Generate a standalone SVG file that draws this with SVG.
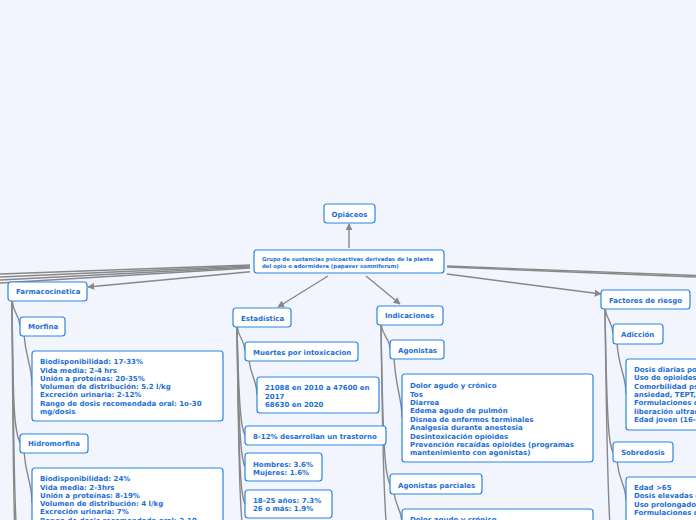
<svg xmlns="http://www.w3.org/2000/svg" width="696" height="520" viewBox="0 0 696 520">
<defs>
<style>
.n{fill:#fff;stroke:#2b86e4;stroke-width:1.2}
.t{font-family:"DejaVu Sans","Verdana",sans-serif;font-weight:bold;font-size:7px;fill:#1d6fd6}
.s{font-size:5.4px}
.c{fill:none;stroke:#888;stroke-width:1.4}
.a{fill:none;stroke:#888;stroke-width:1.4;marker-end:url(#ah)}
</style>
<marker id="ah" viewBox="0 0 10 10" refX="9" refY="5" markerWidth="7" markerHeight="7" markerUnits="userSpaceOnUse" orient="auto">
<path d="M0 0 L10 5 L0 10 Z" fill="#888"/>
</marker>
</defs>
<rect width="696" height="520" fill="#f2f5fe"/>
<g id="connectors">
<path class="c" d="M250 265 L0 274"/>
<path class="c" d="M250 266 L0 277"/>
<path class="c" d="M250 267 L0 280"/>
<path class="c" d="M250 268 L0 283"/>
<path class="c" d="M447 266 L696 275.5"/>
<path class="c" d="M447 267 L696 277"/>
<path class="a" d="M250 271.7 L88 287"/>
<path class="a" d="M447 274 L601 294"/>
<path class="a" d="M349 248 L349 224"/>
<path class="a" d="M328 276 L278 307"/>
<path class="a" d="M366 276 L400 304"/>
<path class="c" d="M12 300 C14 316,20 316,20 326"/>
<path class="c" d="M12 300 C13 420,15 432,20 443"/>
<path class="c" d="M12 300 C13 480,14 510,15 540"/>
<path class="c" d="M12 300 C14 480,15 510,17 540"/>
<path class="c" d="M24 335 C26 360,32 365,32 386"/>
<path class="c" d="M24 452 C26 478,32 482,32 503"/>
<path class="c" d="M237 326 C239 340,245 340,245 351"/>
<path class="c" d="M237 326 C239 410,241 428,245 435"/>
<path class="c" d="M237 326 C239 440,241 458,245 467"/>
<path class="c" d="M237 326 C239 480,241 495,245 504"/>
<path class="c" d="M237 326 C239 500,241 520,244 540"/>
<path class="c" d="M249 360 C251 378,257 380,257 395"/>
<path class="c" d="M381 324 C383 338,390 338,390 349"/>
<path class="c" d="M381 324 C383 450,385 475,390 484"/>
<path class="c" d="M381 324 C383 480,385 520,388 540"/>
<path class="c" d="M394 358 C396 390,402 398,402 418"/>
<path class="c" d="M394 493 C396 508,402 510,402 524"/>
<path class="c" d="M605 308 C607 322,613 322,613 334"/>
<path class="c" d="M605 308 C607 430,609 445,613 452"/>
<path class="c" d="M605 308 C607 480,609 520,611 540"/>
<path class="c" d="M617 343 C619 370,626 375,626 394"/>
<path class="c" d="M617 461 C619 482,626 485,626 500"/>
</g>
<g id="opiaceos"><rect class="n" x="324" y="204" width="51" height="19" rx="3"/><text class="t" x="349.5" y="216.8" text-anchor="middle">Opiáceos</text></g>
<g id="grupo"><rect class="n" x="254" y="250" width="190" height="23" rx="3"/><text class="t s" x="262" y="261">Grupo de sustancias psicoactivas derivadas de la planta</text><text class="t s" x="262" y="267.5">del opio o adormidera (papaver somniferum)</text></g>
<g id="farmacocinetica"><rect class="n" x="8" y="282" width="79" height="19" rx="3"/><text class="t" x="16" y="294.2">Farmacocinetica</text></g>
<g id="morfina"><rect class="n" x="20" y="317" width="45" height="19" rx="3"/><text class="t" x="28" y="328.5">Morfina</text></g>
<g id="morfina-datos"><rect class="n" x="32" y="351" width="191" height="70" rx="3"/>
<text class="t" x="40" y="364.2">Biodisponibilidad: 17-33%</text>
<text class="t" x="40" y="372.5">Vida media: 2-4 hrs</text>
<text class="t" x="40" y="380.8">Unión a proteínas: 20-35%</text>
<text class="t" x="40" y="389.1">Volumen de distribución: 5.2 l/kg</text>
<text class="t" x="40" y="397.4">Excreción urinaria: 2-12%</text>
<text class="t" x="40" y="405.7">Rango de dosis recomendada oral: 1o-30</text>
<text class="t" x="40" y="414">mg/dosis</text></g>
<g id="hidromorfina"><rect class="n" x="20" y="434" width="68" height="19" rx="3"/><text class="t" x="28" y="445.8">Hidromorfina</text></g>
<g id="hidromorfina-datos"><rect class="n" x="32" y="468" width="191" height="70" rx="3"/>
<text class="t" x="40" y="481.2">Biodisponibilidad: 24%</text>
<text class="t" x="40" y="489.5">Vida media: 2-3hrs</text>
<text class="t" x="40" y="497.8">Unión a proteínas: 8-19%</text>
<text class="t" x="40" y="506.1">Volumen de distribución: 4 l/kg</text>
<text class="t" x="40" y="514.4">Excreción urinaria: 7%</text>
<text class="t" x="40" y="522.7">Rango de dosis recomendada oral: 2-10</text></g>
<g id="estadistica"><rect class="n" x="233" y="308" width="58" height="19" rx="3"/><text class="t" x="241" y="320.8">Estadística</text></g>
<g id="muertes"><rect class="n" x="245" y="342" width="113" height="19" rx="3"/><text class="t" x="253" y="354.8">Muertes por intoxicacion</text></g>
<g id="muertes-datos"><rect class="n" x="257" y="377" width="122" height="36" rx="3"/>
<text class="t" x="265" y="390.2">21088 en 2010 a 47600 en</text>
<text class="t" x="265" y="398.5">2017</text>
<text class="t" x="265" y="406.8">68630 en 2020</text></g>
<g id="trastorno"><rect class="n" x="245" y="426" width="141" height="19" rx="3"/><text class="t" x="253" y="438.8">8-12% desarrollan un trastorno</text></g>
<g id="sexo"><rect class="n" x="245" y="453" width="77" height="28" rx="3"/><text class="t" x="253" y="466.5">Hombres: 3.6%</text><text class="t" x="253" y="474.8">Mujeres: 1.6%</text></g>
<g id="edad"><rect class="n" x="245" y="490" width="87" height="28" rx="3"/><text class="t" x="253" y="502.8">18-25 años: 7.3%</text><text class="t" x="253" y="511.1">26 o más: 1.9%</text></g>
<g id="indicaciones"><rect class="n" x="377" y="306" width="66" height="19" rx="3"/><text class="t" x="385" y="318.2">Indicaciones</text></g>
<g id="agonistas"><rect class="n" x="390" y="340" width="54" height="19" rx="3"/><text class="t" x="398" y="353.2">Agonistas</text></g>
<g id="agonistas-datos"><rect class="n" x="402" y="374" width="191" height="88" rx="3"/>
<text class="t" x="410" y="388.2">Dolor agudo y crónico</text>
<text class="t" x="410" y="396.6">Tos</text>
<text class="t" x="410" y="405">Diarrea</text>
<text class="t" x="410" y="413.4">Edema agudo de pulmón</text>
<text class="t" x="410" y="421.8">Disnea de enfermos terminales</text>
<text class="t" x="410" y="430.2">Analgesia durante anestesia</text>
<text class="t" x="410" y="438.6">Desintoxicación opioides</text>
<text class="t" x="410" y="447">Prevención recaídas opioides (programas</text>
<text class="t" x="410" y="455.4">mantenimiento con agonistas)</text></g>
<g id="agonistas-parciales"><rect class="n" x="390" y="474" width="92" height="20" rx="3"/><text class="t" x="398" y="487.5">Agonistas parciales</text></g>
<g id="parciales-datos"><rect class="n" x="402" y="509" width="191" height="40" rx="3"/><text class="t" x="410" y="522">Dolor agudo y crónico</text></g>
<g id="factores"><rect class="n" x="601" y="290" width="89" height="19" rx="3"/><text class="t" x="609" y="303.2">Factores de riesgo</text></g>
<g id="adiccion"><rect class="n" x="613" y="324" width="50" height="20" rx="3"/><text class="t" x="621" y="337.2">Adicción</text></g>
<g id="adiccion-datos"><rect class="n" x="626" y="359" width="191" height="71" rx="3"/>
<text class="t" x="634" y="371.8">Dosis diarias por encima de 100 mg</text>
<text class="t" x="634" y="380.2">Uso de opioides de acción prolongada</text>
<text class="t" x="634" y="388.6">Comorbilidad psiquiátrica (depresión,</text>
<text class="t" x="634" y="397">ansiedad, TEPT, etc.)</text>
<text class="t" x="634" y="405.4">Formulaciones de</text>
<text class="t" x="634" y="413.8">liberación ultrarrápida</text>
<text class="t" x="634" y="422.2">Edad joven (16-45 años)</text></g>
<g id="sobredosis"><rect class="n" x="613" y="442" width="60" height="20" rx="3"/><text class="t" x="621" y="454.8">Sobredosis</text></g>
<g id="sobredosis-datos"><rect class="n" x="626" y="477" width="191" height="60" rx="3"/>
<text class="t" x="634" y="489.8">Edad &gt;65</text>
<text class="t" x="634" y="498.2">Dosis elevadas de opioides</text>
<text class="t" x="634" y="506.6">Uso prolongado</text>
<text class="t" x="634" y="515">Formulaciones de liberación</text></g>
</svg>
